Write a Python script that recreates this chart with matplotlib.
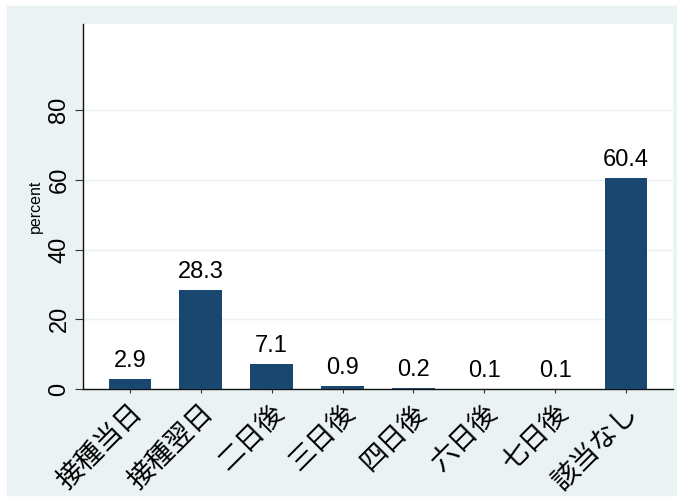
import matplotlib.pyplot as plt
from matplotlib.patches import Rectangle

# データ
categories = ['接種当日', '接種翌日', '二日後', '三日後', '四日後', '六日後', '七日後', '該当なし']
percent = [2.9, 28.3, 7.1, 0.9, 0.2, 0.1, 0.1, 60.4]
yticks = [0, 20, 40, 60, 80]

plt.rcParams['font.family'] = ['Liberation Sans', 'Noto Sans CJK JP']

bg = '#EAF2F3'
navy = '#1A476F'

fig = plt.figure(figsize=(6.77, 4.97), dpi=100)
fig.patches.append(Rectangle((7 / 677, 2 / 497), 1, 1 - 8 / 497,
                             transform=fig.transFigure, color=bg, zorder=-10))
ax = fig.add_axes([83 / 677, (497 - 389) / 497, (673 - 83) / 677, (389 - 24) / 497])
ax.set_zorder(1)

x = range(len(categories))
bars = ax.bar(x, percent, width=0.6, color=navy, zorder=3)
for b, v in zip(bars, percent):
    ax.text(b.get_x() + b.get_width() / 2, v + 2.0, f'{v:.1f}',
            ha='center', va='bottom', fontsize=17)

ax.set_xlim(-0.66, 7.66)
ax.set_ylim(0, 104.7)
ax.set_yticks(yticks)
ax.set_yticklabels([str(t) for t in yticks], rotation=90, va='center', fontsize=17)
ax.set_xticks(list(x))
ax.set_xticklabels(categories, rotation=45, ha='right', rotation_mode='anchor', fontsize=19.5)
ax.tick_params(axis='x', length=3, color='#333333', pad=5)
ax.tick_params(axis='y', length=6, color='#333333', pad=3)
ax.grid(axis='y', color=bg, linewidth=1, zorder=0)
ax.set_ylabel('percent', fontsize=11.5, labelpad=4)

for s in ['top', 'right']:
    ax.spines[s].set_visible(False)
for s in ['left', 'bottom']:
    ax.spines[s].set_color('#111111')
    ax.spines[s].set_linewidth(1)

fig.savefig('out.png', dpi=100)
